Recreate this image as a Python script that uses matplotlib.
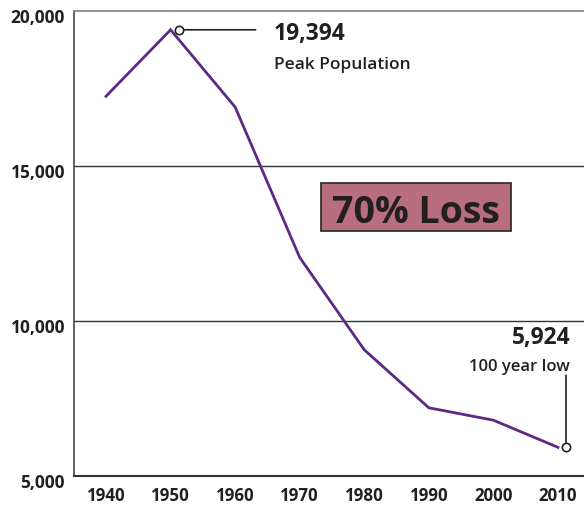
import matplotlib
matplotlib.use('Agg')
import matplotlib.pyplot as plt
from matplotlib.transforms import offset_copy, ScaledTranslation
import matplotlib.patches as mpatches

years = [1940, 1950, 1960, 1970, 1980, 1990, 2000, 2010]
population = [17250, 19394, 16900, 12050, 9070, 7200, 6800, 5924]
y_ticks = [5000, 10000, 15000, 20000]
y_tick_labels = ['5,000', '10,000', '15,000', '20,000']
x_tick_labels = ['1940', '1950', '1960', '1970', '1980', '1990', '2000', '2010']
peak_label = '19,394'
peak_note = 'Peak Population'
low_label = '5,924'
low_note = '100 year low'
loss_label = '70% Loss'

plt.rcParams['font.family'] = ['Open Sans', 'DejaVu Sans']
TXT = '#231f20'
LINE = '#5b2a85'

W, H = 584, 505
fig = plt.figure(figsize=(W / 100, H / 100), dpi=100)
ax = fig.add_axes([74 / W, (H - 476) / H, (W - 74) / W, (476 - 11) / H])
ax.set_xlim(1935.04, 2014.03)
ax.set_ylim(5000, 20000)

# grid lines
for v in y_ticks[1:-1]:
    ax.axhline(v, color='#333333', lw=1.0, zorder=1)

ax.spines['right'].set_visible(False)
ax.spines['top'].set_color('#8a8a8a')
ax.spines['top'].set_linewidth(1.3)
ax.spines['left'].set_color('#555555')
ax.spines['left'].set_linewidth(1.3)
ax.spines['bottom'].set_color('#333333')
ax.spines['bottom'].set_linewidth(1.5)

ax.set_yticks(y_ticks)
ax.set_yticklabels(y_tick_labels, fontsize=12.5, fontweight='bold', color=TXT)
ax.set_xticks(years)
ax.set_xticklabels(x_tick_labels, fontsize=12.2, fontweight='bold', color=TXT)
ax.tick_params(axis='both', length=0)
ax.tick_params(axis='y', pad=6.5)
ax.tick_params(axis='x', pad=8)
for lab in ax.get_yticklabels():
    lab.set_transform(lab.get_transform() + ScaledTranslation(0, -5 / 100, fig.dpi_scale_trans))

# main line
ax.plot(years, population, color=LINE, lw=2.0, zorder=3, solid_joinstyle='miter')

# annotation markers (offset to the right of the points)
mk_tr = offset_copy(ax.transData, fig=fig, x=8, y=0, units='dots')
i_peak = population.index(max(population))
i_low = len(population) - 1

ax.annotate('', xy=(years[i_peak], population[i_peak]), xycoords=mk_tr,
            xytext=(77, 0), textcoords='offset pixels',
            arrowprops=dict(arrowstyle='-', color='#222222', lw=1.2, shrinkA=0, shrinkB=0), zorder=4)
ax.annotate('', xy=(years[i_low], population[i_low]), xycoords=mk_tr,
            xytext=(0, 72), textcoords='offset pixels',
            arrowprops=dict(arrowstyle='-', color='#222222', lw=1.2, shrinkA=0, shrinkB=0), zorder=4)
ax.plot([years[i_peak], years[i_low]], [population[i_peak], population[i_low]], 'o',
        transform=mk_tr, mfc='white', mec='#222222', ms=6, mew=1.2, zorder=5, clip_on=False)

ax.annotate(peak_label, xy=(years[i_peak], population[i_peak]), xytext=(103, -10),
            textcoords='offset pixels', ha='left', va='baseline',
            fontsize=16.5, fontweight='bold', color=TXT)
ax.annotate(peak_note, xy=(years[i_peak], population[i_peak]), xytext=(103, -39),
            textcoords='offset pixels', ha='left', va='baseline',
            fontsize=12.5, fontweight='semibold', color=TXT)
ax.annotate(low_label, xy=(years[i_low], population[i_low]), xytext=(13, 103),
            textcoords='offset pixels', ha='right', va='baseline',
            fontsize=16.5, fontweight='bold', color=TXT)
ax.annotate(low_note, xy=(years[i_low], population[i_low]), xytext=(12, 76),
            textcoords='offset pixels', ha='right', va='baseline',
            fontsize=12, fontweight='semibold', color=TXT)

# loss box
bx0, by0, bw, bh = (320.7 - 74) / 510, (476 - 231) / 465, 190 / 510, 48 / 465
ax.add_patch(mpatches.Rectangle((bx0, by0), bw, bh, transform=ax.transAxes,
                                facecolor='#b86e7e', edgecolor='#333333', lw=1.3, zorder=2))
ax.text(bx0 + bw / 2, (476 - 222.7) / 465, loss_label, transform=ax.transAxes,
        ha='center', va='baseline', fontsize=27, fontweight='bold', color=TXT, zorder=3)

fig.savefig('out.png', dpi=100)
